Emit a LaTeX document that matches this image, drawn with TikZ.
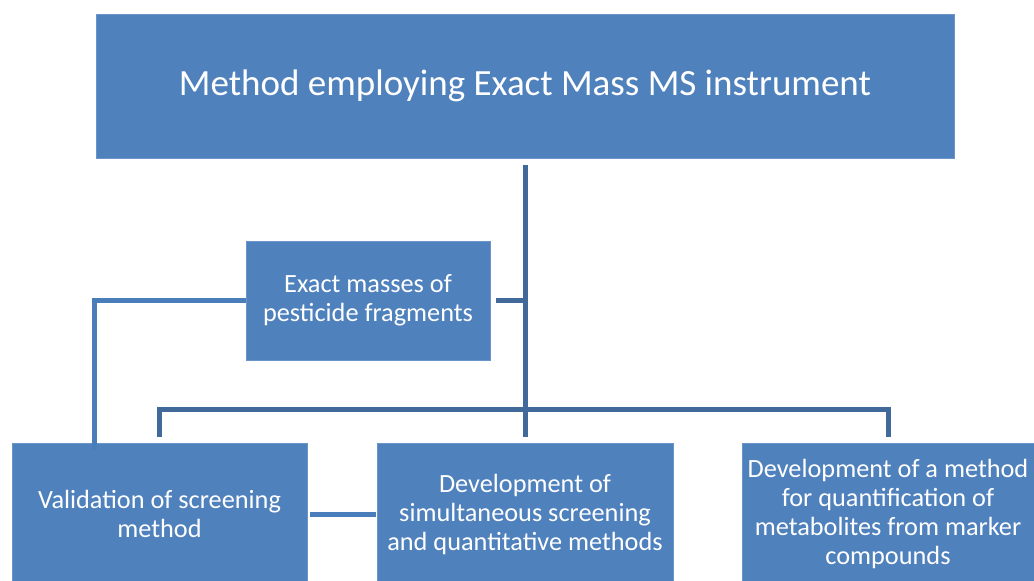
\documentclass[tikz,border=0pt]{standalone}
\usepackage{fontspec}
\setmainfont{Carlito}
\usetikzlibrary{positioning}
\definecolor{boxblue}{HTML}{4F81BD}
\definecolor{boxedge}{HTML}{6A95CA}
\definecolor{trunkblue}{HTML}{41699A}
\definecolor{elbowblue}{HTML}{4A7EBB}

\begin{document}
\begin{tikzpicture}[x=1pt,y=-1pt,
box/.style={fill=boxblue,draw=boxedge,line width=0.8pt,text=white,
    align=center,inner sep=0pt,font=\fontsize{26.3}{29}\selectfont},
headbox/.style={box,font=\fontsize{37}{44}\selectfont},
trunk/.style={draw=trunkblue,line width=5pt},
elbow/.style={draw=elbowblue,line width=5pt}
    ]
\useasboundingbox (0,0) rectangle (1034,581);
\node[headbox,minimum width=858pt,minimum height=144pt] (Method) at (525,86) {Method employing Exact Mass MS instrument};
\node[box,minimum width=244pt,minimum height=119pt] (Masses) at (368,300.5) {Exact masses of\\pesticide fragments};
\node[box,minimum width=295pt,minimum height=142pt] (Validation) at (159.5,514) {Validation of screening\\method};
\node[box,minimum width=296pt,minimum height=142pt] (Develop) at (525,514) {Development of\\simultaneous screening\\and quantitative methods};
\node[box,minimum width=292pt,minimum height=142pt] (Quant) at (888,514) {Development of a method\\for quantification of\\metabolites from marker\\compounds};
\coordinate (Bar) at (0,409);
\coordinate (Elbow) at (94,450);

\draw[trunk] ([yshift=-7pt]Method.south) -- ([yshift=6pt]Develop.north);
\draw[trunk] ([yshift=6pt]Validation.north) -- (Validation.north |- Bar)
    -- (Quant.north |- Bar) -- ([yshift=6pt]Quant.north);
\draw[trunk] ([xshift=6pt]Masses.east) -- (Method.south |- Masses.east);
\draw[elbow] (Masses.west) -| (Elbow);
\draw[elbow] ([xshift=3pt]Validation.east) -- ([xshift=-1pt]Develop.west);
\end{tikzpicture}
\end{document}
